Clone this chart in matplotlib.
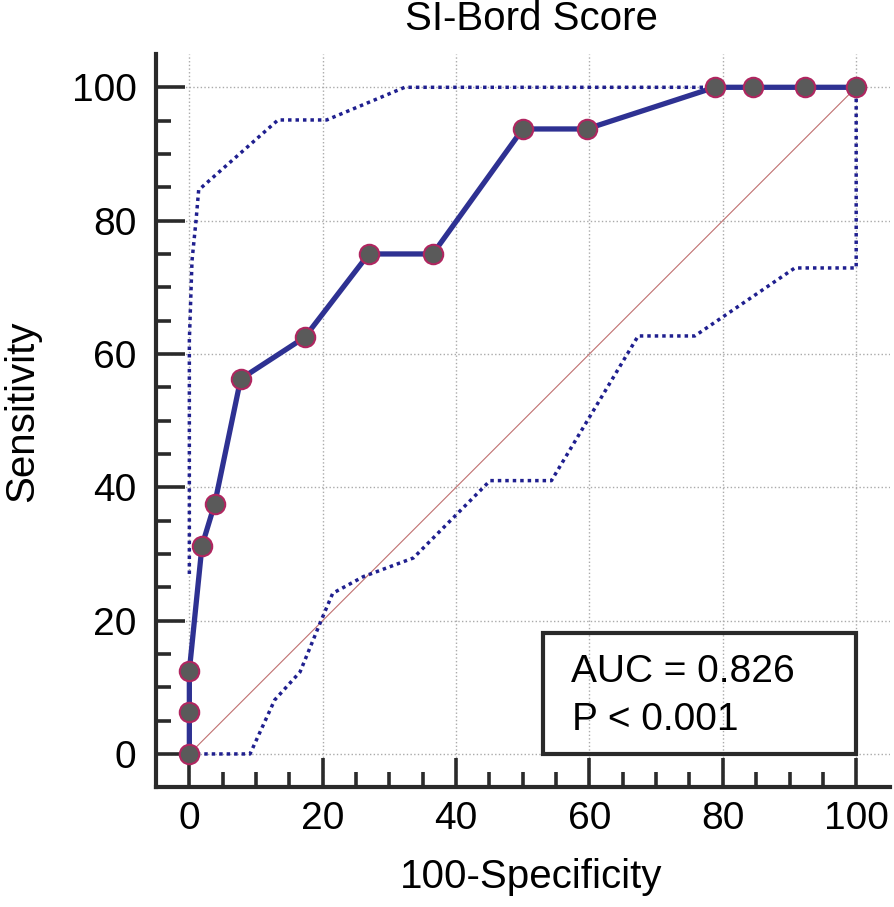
import matplotlib
matplotlib.use("Agg")
import matplotlib.pyplot as plt
from matplotlib.ticker import FixedLocator
from matplotlib.patches import Rectangle

plt.rcParams['font.family'] = ['Liberation Sans', 'DejaVu Sans']

# ROC curve points: 100-specificity vs sensitivity
roc_x = [0, 0, 0, 1.9, 3.8, 7.7, 17.3, 26.9, 36.5, 50.0, 59.6, 78.8, 84.6, 92.3, 100]
roc_y = [0, 6.25, 12.5, 31.25, 37.5, 56.25, 62.5, 75, 75, 93.75, 93.75, 100, 100, 100, 100]

# confidence bounds (dotted)
upper_x = [0, 0, 0.4, 1.0, 1.4, 13.3, 20.6, 32.3, 100]
upper_y = [27, 62, 74, 80, 84.6, 95.1, 95.1, 100, 100]
lower_x = [0, 9.1, 12.8, 16.6, 19.8, 21.5, 26.1, 33.6, 45.1, 54.3, 67.3, 75.8, 90.8, 100, 100]
lower_y = [0, 0, 8.1, 12.3, 20.1, 24.1, 26.6, 29.4, 41, 41, 62.7, 62.7, 72.9, 72.9, 100]

major_ticks = [0, 20, 40, 60, 80, 100]
minor_ticks = list(range(0, 101, 5))

auc_text = "AUC = 0.826"
p_text = "P < 0.001"

fig = plt.figure(figsize=(8.94, 9.07), dpi=100)
ax = fig.add_axes([0.1745, 0.132, 0.8205, 0.8085])

# reference diagonal
ax.plot([0, 100], [0, 100], color='#c07070', lw=0.8, zorder=2)

# confidence bounds
dot = (0, (1, 1.15))
ax.plot(upper_x, upper_y, color='#1f1f8f', lw=2.5, linestyle=dot, zorder=3)
ax.plot(lower_x, lower_y, color='#1f1f8f', lw=2.5, linestyle=dot, zorder=3)

# ROC curve
ax.plot(roc_x, roc_y, color='#2e3192', lw=3.8, zorder=4)
ax.plot(roc_x, roc_y, linestyle='none', marker='o', markersize=14,
        markerfacecolor='#5a5a5a', markeredgecolor='#b02660', markeredgewidth=1.5,
        zorder=5)

ax.set_xlim(-5, 105)
ax.set_ylim(-5, 105)

ax.xaxis.set_major_locator(FixedLocator(major_ticks))
ax.yaxis.set_major_locator(FixedLocator(major_ticks))
ax.xaxis.set_minor_locator(FixedLocator(minor_ticks))
ax.yaxis.set_minor_locator(FixedLocator(minor_ticks))

ax.grid(True, which='major', linestyle=':', color='#aaaaaa', lw=1.0, zorder=1)
ax.set_axisbelow(True)

for side in ['top', 'right']:
    ax.spines[side].set_visible(False)
for side in ['left', 'bottom']:
    ax.spines[side].set_linewidth(3.0)
    ax.spines[side].set_color('#2a2a2a')

ax.tick_params(which='major', direction='in', length=21, width=2.6, color='#2a2a2a',
               labelsize=28)
ax.tick_params(which='minor', direction='in', length=11, width=2.6, color='#2a2a2a')
ax.tick_params(axis='x', which='major', pad=10)
ax.tick_params(axis='y', which='major', pad=14)

# stats box
ax.add_patch(Rectangle((53.0, 0), 47.0, 18.1, fill=False, edgecolor='#2a2a2a',
                       lw=3.0, zorder=6))
ax.text(57.3, 10.8, auc_text, fontsize=28, va='baseline', ha='left', zorder=7)
ax.text(57.4, 3.6, p_text, fontsize=28, va='baseline', ha='left', zorder=7)

# titles and labels
fig.text(531 / 894, 1 - 30 / 907, "SI-Bord Score", fontsize=29, ha='center', va='baseline')
fig.text(531 / 894, 1 - 888 / 907, "100-Specificity", fontsize=29, ha='center', va='baseline')
fig.text(33 / 894, 1 - 411 / 907, "Sensitivity", fontsize=29, ha='center', va='baseline',
         rotation=90, rotation_mode='anchor')

fig.savefig("out.png", dpi=100)
